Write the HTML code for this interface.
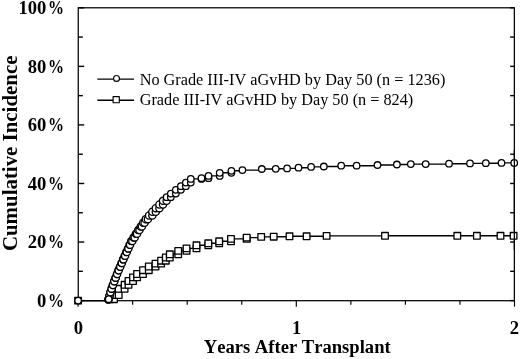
<!DOCTYPE html>
<html><head><meta charset="utf-8"><style>
html,body{margin:0;padding:0;background:#fff;overflow:hidden;}
svg{display:block;will-change:transform;}
text{font-family:"Liberation Serif",serif;fill:#000;font-kerning:none;}
.b{font-weight:bold;}
</style></head><body>
<svg width="520" height="359" viewBox="0 0 520 359">
<rect x="78.25" y="7.8" width="436.10" height="292.90" fill="none" stroke="#000" stroke-width="1.25"/>
<line x1="78.25" y1="300.60" x2="84.25" y2="300.60" stroke="#000" stroke-width="1.4"/>
<line x1="514.35" y1="300.60" x2="510.15" y2="300.60" stroke="#000" stroke-width="1.4"/>
<line x1="78.25" y1="271.32" x2="82.85" y2="271.32" stroke="#000" stroke-width="1.4"/>
<line x1="514.35" y1="271.32" x2="510.15" y2="271.32" stroke="#000" stroke-width="1.4"/>
<line x1="78.25" y1="242.04" x2="84.25" y2="242.04" stroke="#000" stroke-width="1.4"/>
<line x1="514.35" y1="242.04" x2="510.15" y2="242.04" stroke="#000" stroke-width="1.4"/>
<line x1="78.25" y1="212.76" x2="82.85" y2="212.76" stroke="#000" stroke-width="1.4"/>
<line x1="514.35" y1="212.76" x2="510.15" y2="212.76" stroke="#000" stroke-width="1.4"/>
<line x1="78.25" y1="183.48" x2="84.25" y2="183.48" stroke="#000" stroke-width="1.4"/>
<line x1="514.35" y1="183.48" x2="510.15" y2="183.48" stroke="#000" stroke-width="1.4"/>
<line x1="78.25" y1="154.20" x2="82.85" y2="154.20" stroke="#000" stroke-width="1.4"/>
<line x1="514.35" y1="154.20" x2="510.15" y2="154.20" stroke="#000" stroke-width="1.4"/>
<line x1="78.25" y1="124.92" x2="84.25" y2="124.92" stroke="#000" stroke-width="1.4"/>
<line x1="514.35" y1="124.92" x2="510.15" y2="124.92" stroke="#000" stroke-width="1.4"/>
<line x1="78.25" y1="95.64" x2="82.85" y2="95.64" stroke="#000" stroke-width="1.4"/>
<line x1="514.35" y1="95.64" x2="510.15" y2="95.64" stroke="#000" stroke-width="1.4"/>
<line x1="78.25" y1="66.36" x2="84.25" y2="66.36" stroke="#000" stroke-width="1.4"/>
<line x1="514.35" y1="66.36" x2="510.15" y2="66.36" stroke="#000" stroke-width="1.4"/>
<line x1="78.25" y1="37.08" x2="82.85" y2="37.08" stroke="#000" stroke-width="1.4"/>
<line x1="514.35" y1="37.08" x2="510.15" y2="37.08" stroke="#000" stroke-width="1.4"/>
<line x1="78.25" y1="7.80" x2="84.25" y2="7.80" stroke="#000" stroke-width="1.4"/>
<line x1="514.35" y1="7.80" x2="510.15" y2="7.80" stroke="#000" stroke-width="1.4"/>
<line x1="78.10" y1="300.70" x2="78.10" y2="306.70" stroke="#000" stroke-width="1.15"/>
<line x1="132.65" y1="300.70" x2="132.65" y2="304.80" stroke="#000" stroke-width="1.15"/>
<line x1="187.20" y1="300.70" x2="187.20" y2="304.80" stroke="#000" stroke-width="1.15"/>
<line x1="241.75" y1="300.70" x2="241.75" y2="304.80" stroke="#000" stroke-width="1.15"/>
<line x1="296.30" y1="300.70" x2="296.30" y2="306.70" stroke="#000" stroke-width="1.15"/>
<line x1="350.85" y1="300.70" x2="350.85" y2="304.80" stroke="#000" stroke-width="1.15"/>
<line x1="405.40" y1="300.70" x2="405.40" y2="304.80" stroke="#000" stroke-width="1.15"/>
<line x1="459.95" y1="300.70" x2="459.95" y2="304.80" stroke="#000" stroke-width="1.15"/>
<line x1="514.50" y1="300.70" x2="514.50" y2="306.70" stroke="#000" stroke-width="1.15"/>
<polyline points="78.1,300.6 109.5,300.6 109.5,299.2 114.0,299.2 114.0,295.0 118.7,295.0 118.7,288.8 124.6,288.8 124.6,284.8 128.5,284.8 128.5,281.0 133.0,281.0 133.0,277.4 137.1,277.4 137.1,274.0 143.0,274.0 143.0,270.2 148.8,270.2 148.8,266.5 155.5,266.5 155.5,263.6 161.1,263.6 161.1,260.7 165.8,260.7 165.8,257.5 169.8,257.5 169.8,254.3 178.2,254.3 178.2,250.9 186.5,250.9 186.5,248.4 196.5,248.4 196.5,245.3 208.3,245.3 208.3,243.3 219.2,243.3 219.2,241.3 231.0,241.3 231.0,238.9 246.7,238.9 246.7,237.6 261.2,237.6 261.2,236.9 273.7,236.9 273.7,236.7 289.5,236.7 289.5,236.3 306.6,236.3 306.6,236.3 326.6,236.3 326.6,235.9 385.0,235.9 385.0,235.8 457.3,235.8 457.3,235.8 476.9,235.8 476.9,235.8 500.5,235.8 500.5,235.8 513.6,235.8 513.6,235.8" fill="none" stroke="#000" stroke-width="1.4" stroke-linejoin="round"/>
<polyline points="78.1,300.6 108.4,300.6 108.5,299.6 109.5,299.6 109.5,295.9 110.6,295.9 110.6,292.3 111.6,292.3 111.6,288.6 112.8,288.6 112.8,285.0 114.2,285.0 114.2,281.3 115.5,281.3 115.5,277.7 116.9,277.7 116.9,274.0 118.4,274.0 118.4,270.3 119.9,270.3 119.9,266.7 121.5,266.7 121.5,263.0 123.1,263.0 123.1,259.4 124.7,259.4 124.7,255.7 126.3,255.7 126.3,252.1 128.0,252.1 128.0,248.4 129.6,248.4 129.6,244.7 131.3,244.7 131.3,241.1 133.6,241.1 133.6,237.4 135.9,237.4 135.9,233.8 138.2,233.8 138.2,230.1 140.7,230.1 140.7,226.4 143.1,226.4 143.1,222.8 145.8,222.8 145.8,219.1 149.1,219.1 149.1,215.5 152.4,215.5 152.4,211.8 155.8,211.8 155.8,208.2 159.4,208.2 159.4,204.5 163.0,204.5 163.0,200.8 166.6,200.8 166.6,197.2 170.8,197.2 170.8,193.5 175.9,193.5 175.9,189.9 180.9,189.9 180.9,186.2 185.8,186.2 185.8,182.6 190.8,182.6 190.8,178.9 201.5,178.9 201.5,178.2 208.5,178.2 208.5,175.9 219.7,175.9 219.7,172.8 231.4,172.8 231.4,170.8 242.4,170.8 242.4,170.1 261.8,170.1 261.8,169.0 275.7,169.0 275.7,168.8 287.1,168.8 287.1,168.4 298.5,168.4 298.5,167.7 311.1,167.7 311.1,166.9 323.8,166.9 323.8,166.5 341.2,166.5 341.2,165.7 356.6,165.7 356.6,165.7 377.5,165.7 377.5,165.0 396.9,165.0 396.9,164.5 410.8,164.5 410.8,164.1 425.7,164.1 425.7,164.1 449.0,164.1 449.0,163.7 470.0,163.7 470.0,163.4 485.8,163.4 485.8,163.2 501.5,163.2 501.5,162.9 514.2,162.9 514.2,162.9" fill="none" stroke="#000" stroke-width="1.4" stroke-linejoin="round"/>
<rect x="74.80" y="297.30" width="6.6" height="6.6" fill="#fff" stroke="#000" stroke-width="1.3" stroke-linejoin="round"/>
<rect x="106.20" y="295.90" width="6.6" height="6.6" fill="#fff" stroke="#000" stroke-width="1.3" stroke-linejoin="round"/>
<rect x="110.70" y="295.90" width="6.6" height="6.6" fill="#fff" stroke="#000" stroke-width="1.3" stroke-linejoin="round"/>
<rect x="110.70" y="291.70" width="6.6" height="6.6" fill="#fff" stroke="#000" stroke-width="1.3" stroke-linejoin="round"/>
<rect x="115.40" y="291.70" width="6.6" height="6.6" fill="#fff" stroke="#000" stroke-width="1.3" stroke-linejoin="round"/>
<rect x="115.40" y="285.50" width="6.6" height="6.6" fill="#fff" stroke="#000" stroke-width="1.3" stroke-linejoin="round"/>
<rect x="121.30" y="285.50" width="6.6" height="6.6" fill="#fff" stroke="#000" stroke-width="1.3" stroke-linejoin="round"/>
<rect x="121.30" y="281.50" width="6.6" height="6.6" fill="#fff" stroke="#000" stroke-width="1.3" stroke-linejoin="round"/>
<rect x="125.20" y="281.50" width="6.6" height="6.6" fill="#fff" stroke="#000" stroke-width="1.3" stroke-linejoin="round"/>
<rect x="125.20" y="277.70" width="6.6" height="6.6" fill="#fff" stroke="#000" stroke-width="1.3" stroke-linejoin="round"/>
<rect x="129.70" y="277.70" width="6.6" height="6.6" fill="#fff" stroke="#000" stroke-width="1.3" stroke-linejoin="round"/>
<rect x="129.70" y="274.10" width="6.6" height="6.6" fill="#fff" stroke="#000" stroke-width="1.3" stroke-linejoin="round"/>
<rect x="133.80" y="274.10" width="6.6" height="6.6" fill="#fff" stroke="#000" stroke-width="1.3" stroke-linejoin="round"/>
<rect x="133.80" y="270.70" width="6.6" height="6.6" fill="#fff" stroke="#000" stroke-width="1.3" stroke-linejoin="round"/>
<rect x="139.70" y="270.70" width="6.6" height="6.6" fill="#fff" stroke="#000" stroke-width="1.3" stroke-linejoin="round"/>
<rect x="139.70" y="266.90" width="6.6" height="6.6" fill="#fff" stroke="#000" stroke-width="1.3" stroke-linejoin="round"/>
<rect x="145.50" y="266.90" width="6.6" height="6.6" fill="#fff" stroke="#000" stroke-width="1.3" stroke-linejoin="round"/>
<rect x="145.50" y="263.20" width="6.6" height="6.6" fill="#fff" stroke="#000" stroke-width="1.3" stroke-linejoin="round"/>
<rect x="152.20" y="263.20" width="6.6" height="6.6" fill="#fff" stroke="#000" stroke-width="1.3" stroke-linejoin="round"/>
<rect x="152.20" y="260.30" width="6.6" height="6.6" fill="#fff" stroke="#000" stroke-width="1.3" stroke-linejoin="round"/>
<rect x="157.80" y="260.30" width="6.6" height="6.6" fill="#fff" stroke="#000" stroke-width="1.3" stroke-linejoin="round"/>
<rect x="157.80" y="257.40" width="6.6" height="6.6" fill="#fff" stroke="#000" stroke-width="1.3" stroke-linejoin="round"/>
<rect x="162.50" y="257.40" width="6.6" height="6.6" fill="#fff" stroke="#000" stroke-width="1.3" stroke-linejoin="round"/>
<rect x="162.50" y="254.20" width="6.6" height="6.6" fill="#fff" stroke="#000" stroke-width="1.3" stroke-linejoin="round"/>
<rect x="166.50" y="254.20" width="6.6" height="6.6" fill="#fff" stroke="#000" stroke-width="1.3" stroke-linejoin="round"/>
<rect x="166.50" y="251.00" width="6.6" height="6.6" fill="#fff" stroke="#000" stroke-width="1.3" stroke-linejoin="round"/>
<rect x="174.90" y="251.00" width="6.6" height="6.6" fill="#fff" stroke="#000" stroke-width="1.3" stroke-linejoin="round"/>
<rect x="174.90" y="247.60" width="6.6" height="6.6" fill="#fff" stroke="#000" stroke-width="1.3" stroke-linejoin="round"/>
<rect x="183.20" y="247.60" width="6.6" height="6.6" fill="#fff" stroke="#000" stroke-width="1.3" stroke-linejoin="round"/>
<rect x="183.20" y="245.10" width="6.6" height="6.6" fill="#fff" stroke="#000" stroke-width="1.3" stroke-linejoin="round"/>
<rect x="193.20" y="245.10" width="6.6" height="6.6" fill="#fff" stroke="#000" stroke-width="1.3" stroke-linejoin="round"/>
<rect x="193.20" y="242.00" width="6.6" height="6.6" fill="#fff" stroke="#000" stroke-width="1.3" stroke-linejoin="round"/>
<rect x="205.00" y="242.00" width="6.6" height="6.6" fill="#fff" stroke="#000" stroke-width="1.3" stroke-linejoin="round"/>
<rect x="205.00" y="240.00" width="6.6" height="6.6" fill="#fff" stroke="#000" stroke-width="1.3" stroke-linejoin="round"/>
<rect x="215.90" y="240.00" width="6.6" height="6.6" fill="#fff" stroke="#000" stroke-width="1.3" stroke-linejoin="round"/>
<rect x="215.90" y="238.00" width="6.6" height="6.6" fill="#fff" stroke="#000" stroke-width="1.3" stroke-linejoin="round"/>
<rect x="227.70" y="238.00" width="6.6" height="6.6" fill="#fff" stroke="#000" stroke-width="1.3" stroke-linejoin="round"/>
<rect x="227.70" y="235.60" width="6.6" height="6.6" fill="#fff" stroke="#000" stroke-width="1.3" stroke-linejoin="round"/>
<rect x="243.40" y="235.60" width="6.6" height="6.6" fill="#fff" stroke="#000" stroke-width="1.3" stroke-linejoin="round"/>
<rect x="243.40" y="234.30" width="6.6" height="6.6" fill="#fff" stroke="#000" stroke-width="1.3" stroke-linejoin="round"/>
<rect x="257.90" y="233.60" width="6.6" height="6.6" fill="#fff" stroke="#000" stroke-width="1.3" stroke-linejoin="round"/>
<rect x="270.40" y="233.40" width="6.6" height="6.6" fill="#fff" stroke="#000" stroke-width="1.3" stroke-linejoin="round"/>
<rect x="286.20" y="233.00" width="6.6" height="6.6" fill="#fff" stroke="#000" stroke-width="1.3" stroke-linejoin="round"/>
<rect x="303.30" y="233.00" width="6.6" height="6.6" fill="#fff" stroke="#000" stroke-width="1.3" stroke-linejoin="round"/>
<rect x="323.30" y="232.60" width="6.6" height="6.6" fill="#fff" stroke="#000" stroke-width="1.3" stroke-linejoin="round"/>
<rect x="381.70" y="232.50" width="6.6" height="6.6" fill="#fff" stroke="#000" stroke-width="1.3" stroke-linejoin="round"/>
<rect x="454.00" y="232.50" width="6.6" height="6.6" fill="#fff" stroke="#000" stroke-width="1.3" stroke-linejoin="round"/>
<rect x="473.60" y="232.50" width="6.6" height="6.6" fill="#fff" stroke="#000" stroke-width="1.3" stroke-linejoin="round"/>
<rect x="497.20" y="232.50" width="6.6" height="6.6" fill="#fff" stroke="#000" stroke-width="1.3" stroke-linejoin="round"/>
<rect x="510.30" y="232.50" width="6.6" height="6.6" fill="#fff" stroke="#000" stroke-width="1.3" stroke-linejoin="round"/>
<circle cx="78.10" cy="300.60" r="3.25" fill="#fff" stroke="#000" stroke-width="1.3"/>
<circle cx="108.50" cy="299.60" r="3.6" fill="#fff" stroke="#000" stroke-width="1.3"/>
<circle cx="108.35" cy="299.60" r="3.6" fill="#fff" stroke="#000" stroke-width="1.3"/>
<circle cx="109.55" cy="295.94" r="3.6" fill="#fff" stroke="#000" stroke-width="1.3"/>
<circle cx="109.40" cy="295.94" r="3.6" fill="#fff" stroke="#000" stroke-width="1.3"/>
<circle cx="110.60" cy="292.28" r="3.6" fill="#fff" stroke="#000" stroke-width="1.3"/>
<circle cx="110.45" cy="292.28" r="3.6" fill="#fff" stroke="#000" stroke-width="1.3"/>
<circle cx="111.65" cy="288.63" r="3.6" fill="#fff" stroke="#000" stroke-width="1.3"/>
<circle cx="111.59" cy="288.63" r="3.6" fill="#fff" stroke="#000" stroke-width="1.3"/>
<circle cx="112.79" cy="284.97" r="3.6" fill="#fff" stroke="#000" stroke-width="1.3"/>
<circle cx="112.96" cy="284.97" r="3.6" fill="#fff" stroke="#000" stroke-width="1.3"/>
<circle cx="114.16" cy="281.31" r="3.6" fill="#fff" stroke="#000" stroke-width="1.3"/>
<circle cx="114.34" cy="281.31" r="3.6" fill="#fff" stroke="#000" stroke-width="1.3"/>
<circle cx="115.54" cy="277.65" r="3.6" fill="#fff" stroke="#000" stroke-width="1.3"/>
<circle cx="115.71" cy="277.65" r="3.6" fill="#fff" stroke="#000" stroke-width="1.3"/>
<circle cx="116.91" cy="274.00" r="3.6" fill="#fff" stroke="#000" stroke-width="1.3"/>
<circle cx="117.17" cy="274.00" r="3.6" fill="#fff" stroke="#000" stroke-width="1.3"/>
<circle cx="118.37" cy="270.34" r="3.6" fill="#fff" stroke="#000" stroke-width="1.3"/>
<circle cx="118.70" cy="270.34" r="3.6" fill="#fff" stroke="#000" stroke-width="1.3"/>
<circle cx="119.90" cy="266.68" r="3.6" fill="#fff" stroke="#000" stroke-width="1.3"/>
<circle cx="120.30" cy="266.68" r="3.6" fill="#fff" stroke="#000" stroke-width="1.3"/>
<circle cx="121.50" cy="263.02" r="3.6" fill="#fff" stroke="#000" stroke-width="1.3"/>
<circle cx="121.89" cy="263.02" r="3.6" fill="#fff" stroke="#000" stroke-width="1.3"/>
<circle cx="123.09" cy="259.37" r="3.6" fill="#fff" stroke="#000" stroke-width="1.3"/>
<circle cx="123.49" cy="259.37" r="3.6" fill="#fff" stroke="#000" stroke-width="1.3"/>
<circle cx="124.69" cy="255.71" r="3.6" fill="#fff" stroke="#000" stroke-width="1.3"/>
<circle cx="125.13" cy="255.71" r="3.6" fill="#fff" stroke="#000" stroke-width="1.3"/>
<circle cx="126.33" cy="252.05" r="3.6" fill="#fff" stroke="#000" stroke-width="1.3"/>
<circle cx="126.78" cy="252.05" r="3.6" fill="#fff" stroke="#000" stroke-width="1.3"/>
<circle cx="127.98" cy="248.39" r="3.6" fill="#fff" stroke="#000" stroke-width="1.3"/>
<circle cx="128.43" cy="248.39" r="3.6" fill="#fff" stroke="#000" stroke-width="1.3"/>
<circle cx="129.63" cy="244.74" r="3.6" fill="#fff" stroke="#000" stroke-width="1.3"/>
<circle cx="130.07" cy="244.74" r="3.6" fill="#fff" stroke="#000" stroke-width="1.3"/>
<circle cx="131.27" cy="241.08" r="3.6" fill="#fff" stroke="#000" stroke-width="1.3"/>
<circle cx="132.36" cy="241.08" r="3.6" fill="#fff" stroke="#000" stroke-width="1.3"/>
<circle cx="133.56" cy="237.42" r="3.6" fill="#fff" stroke="#000" stroke-width="1.3"/>
<circle cx="134.70" cy="237.42" r="3.6" fill="#fff" stroke="#000" stroke-width="1.3"/>
<circle cx="135.90" cy="233.76" r="3.6" fill="#fff" stroke="#000" stroke-width="1.3"/>
<circle cx="137.03" cy="233.76" r="3.6" fill="#fff" stroke="#000" stroke-width="1.3"/>
<circle cx="138.23" cy="230.11" r="3.6" fill="#fff" stroke="#000" stroke-width="1.3"/>
<circle cx="139.48" cy="230.11" r="3.6" fill="#fff" stroke="#000" stroke-width="1.3"/>
<circle cx="140.68" cy="226.45" r="3.6" fill="#fff" stroke="#000" stroke-width="1.3"/>
<circle cx="141.93" cy="226.45" r="3.6" fill="#fff" stroke="#000" stroke-width="1.3"/>
<circle cx="143.13" cy="222.79" r="3.6" fill="#fff" stroke="#000" stroke-width="1.3"/>
<circle cx="144.58" cy="222.79" r="3.6" fill="#fff" stroke="#000" stroke-width="1.3"/>
<circle cx="145.78" cy="219.13" r="3.6" fill="#fff" stroke="#000" stroke-width="1.3"/>
<circle cx="147.87" cy="219.13" r="3.6" fill="#fff" stroke="#000" stroke-width="1.3"/>
<circle cx="149.07" cy="215.48" r="3.6" fill="#fff" stroke="#000" stroke-width="1.3"/>
<circle cx="152.36" cy="215.48" r="3.6" fill="#fff" stroke="#000" stroke-width="1.3"/>
<circle cx="152.36" cy="211.82" r="3.6" fill="#fff" stroke="#000" stroke-width="1.3"/>
<circle cx="155.81" cy="211.82" r="3.6" fill="#fff" stroke="#000" stroke-width="1.3"/>
<circle cx="155.81" cy="208.16" r="3.6" fill="#fff" stroke="#000" stroke-width="1.3"/>
<circle cx="159.42" cy="208.16" r="3.6" fill="#fff" stroke="#000" stroke-width="1.3"/>
<circle cx="159.42" cy="204.50" r="3.6" fill="#fff" stroke="#000" stroke-width="1.3"/>
<circle cx="163.03" cy="204.50" r="3.6" fill="#fff" stroke="#000" stroke-width="1.3"/>
<circle cx="163.03" cy="200.85" r="3.6" fill="#fff" stroke="#000" stroke-width="1.3"/>
<circle cx="166.64" cy="200.85" r="3.6" fill="#fff" stroke="#000" stroke-width="1.3"/>
<circle cx="166.64" cy="197.19" r="3.25" fill="#fff" stroke="#000" stroke-width="1.3"/>
<circle cx="170.82" cy="197.19" r="3.25" fill="#fff" stroke="#000" stroke-width="1.3"/>
<circle cx="170.82" cy="193.53" r="3.25" fill="#fff" stroke="#000" stroke-width="1.3"/>
<circle cx="175.86" cy="193.53" r="3.25" fill="#fff" stroke="#000" stroke-width="1.3"/>
<circle cx="175.86" cy="189.87" r="3.25" fill="#fff" stroke="#000" stroke-width="1.3"/>
<circle cx="180.89" cy="189.87" r="3.25" fill="#fff" stroke="#000" stroke-width="1.3"/>
<circle cx="180.89" cy="186.22" r="3.25" fill="#fff" stroke="#000" stroke-width="1.3"/>
<circle cx="185.84" cy="186.22" r="3.25" fill="#fff" stroke="#000" stroke-width="1.3"/>
<circle cx="185.84" cy="182.56" r="3.25" fill="#fff" stroke="#000" stroke-width="1.3"/>
<circle cx="190.80" cy="182.56" r="3.25" fill="#fff" stroke="#000" stroke-width="1.3"/>
<circle cx="190.80" cy="178.90" r="3.25" fill="#fff" stroke="#000" stroke-width="1.3"/>
<circle cx="201.50" cy="178.90" r="3.25" fill="#fff" stroke="#000" stroke-width="1.3"/>
<circle cx="201.50" cy="178.20" r="3.25" fill="#fff" stroke="#000" stroke-width="1.3"/>
<circle cx="208.50" cy="178.20" r="3.25" fill="#fff" stroke="#000" stroke-width="1.3"/>
<circle cx="208.50" cy="175.90" r="3.25" fill="#fff" stroke="#000" stroke-width="1.3"/>
<circle cx="219.70" cy="175.90" r="3.25" fill="#fff" stroke="#000" stroke-width="1.3"/>
<circle cx="219.70" cy="172.80" r="3.25" fill="#fff" stroke="#000" stroke-width="1.3"/>
<circle cx="231.40" cy="172.80" r="3.25" fill="#fff" stroke="#000" stroke-width="1.3"/>
<circle cx="231.40" cy="170.80" r="3.25" fill="#fff" stroke="#000" stroke-width="1.3"/>
<circle cx="242.40" cy="170.10" r="3.25" fill="#fff" stroke="#000" stroke-width="1.3"/>
<circle cx="261.80" cy="169.00" r="3.25" fill="#fff" stroke="#000" stroke-width="1.3"/>
<circle cx="275.70" cy="168.80" r="3.25" fill="#fff" stroke="#000" stroke-width="1.3"/>
<circle cx="287.10" cy="168.40" r="3.25" fill="#fff" stroke="#000" stroke-width="1.3"/>
<circle cx="298.50" cy="167.70" r="3.25" fill="#fff" stroke="#000" stroke-width="1.3"/>
<circle cx="311.10" cy="166.90" r="3.25" fill="#fff" stroke="#000" stroke-width="1.3"/>
<circle cx="323.80" cy="166.50" r="3.25" fill="#fff" stroke="#000" stroke-width="1.3"/>
<circle cx="341.20" cy="165.70" r="3.25" fill="#fff" stroke="#000" stroke-width="1.3"/>
<circle cx="356.60" cy="165.70" r="3.25" fill="#fff" stroke="#000" stroke-width="1.3"/>
<circle cx="377.50" cy="165.00" r="3.25" fill="#fff" stroke="#000" stroke-width="1.3"/>
<circle cx="396.90" cy="164.50" r="3.25" fill="#fff" stroke="#000" stroke-width="1.3"/>
<circle cx="410.80" cy="164.10" r="3.25" fill="#fff" stroke="#000" stroke-width="1.3"/>
<circle cx="425.70" cy="164.10" r="3.25" fill="#fff" stroke="#000" stroke-width="1.3"/>
<circle cx="449.00" cy="163.70" r="3.25" fill="#fff" stroke="#000" stroke-width="1.3"/>
<circle cx="470.00" cy="163.40" r="3.25" fill="#fff" stroke="#000" stroke-width="1.3"/>
<circle cx="485.80" cy="163.20" r="3.25" fill="#fff" stroke="#000" stroke-width="1.3"/>
<circle cx="501.50" cy="162.90" r="3.25" fill="#fff" stroke="#000" stroke-width="1.3"/>
<circle cx="514.20" cy="162.90" r="3.25" fill="#fff" stroke="#000" stroke-width="1.3"/>
<circle cx="108.70" cy="299.20" r="3.25" fill="#fff" stroke="#000" stroke-width="1.3"/>
<line x1="514.35" y1="150" x2="514.35" y2="250" stroke="#000" stroke-width="1.25"/>
<line x1="97.3" y1="79.1" x2="134" y2="79.1" stroke="#000" stroke-width="1.4"/>
<circle cx="116.5" cy="78.39999999999999" r="2.95" fill="#fff" stroke="#000" stroke-width="1.15"/>
<line x1="97.3" y1="100.3" x2="134" y2="100.3" stroke="#000" stroke-width="1.4"/>
<rect x="113.10000000000001" y="96.60000000000001" width="6.2" height="6.2" fill="#fff" stroke="#000" stroke-width="1.15" stroke-linejoin="round"/>
<text x="139.7" y="85.0" font-size="16.25" class="r">No Grade III-IV aGvHD by Day 50 (n = 1236)</text>
<text x="139.7" y="105.0" font-size="16.25" class="r">Grade III-IV aGvHD by Day 50 (n = 824)</text>
<text x="46.30" y="306.90" font-size="18.6" class="b" text-anchor="end">0</text>
<text transform="translate(48.00,306.90) scale(0.86,1)" font-size="18.6" class="b">%</text>
<text x="46.30" y="248.34" font-size="18.6" class="b" text-anchor="end">20</text>
<text transform="translate(48.00,248.34) scale(0.86,1)" font-size="18.6" class="b">%</text>
<text x="46.30" y="189.78" font-size="18.6" class="b" text-anchor="end">40</text>
<text transform="translate(48.00,189.78) scale(0.86,1)" font-size="18.6" class="b">%</text>
<text x="46.30" y="131.22" font-size="18.6" class="b" text-anchor="end">60</text>
<text transform="translate(48.00,131.22) scale(0.86,1)" font-size="18.6" class="b">%</text>
<text x="46.30" y="72.66" font-size="18.6" class="b" text-anchor="end">80</text>
<text transform="translate(48.00,72.66) scale(0.86,1)" font-size="18.6" class="b">%</text>
<text x="46.30" y="14.10" font-size="18.6" class="b" text-anchor="end">100</text>
<text transform="translate(48.00,14.10) scale(0.86,1)" font-size="18.6" class="b">%</text>
<text x="78.40" y="334" font-size="18.6" class="b" text-anchor="middle">0</text>
<text x="296.70" y="334" font-size="18.6" class="b" text-anchor="middle">1</text>
<text x="514.50" y="334" font-size="18.6" class="b" text-anchor="middle">2</text>
<text x="297.2" y="353.4" font-size="18.6" word-spacing="0" class="b" text-anchor="middle">Years After Transplant</text>
<text transform="translate(16.7,153.3) rotate(-90)" x="0" y="0" font-size="20.9" class="b" text-anchor="middle">Cumulative Incidence</text>
</svg>
</body></html>
